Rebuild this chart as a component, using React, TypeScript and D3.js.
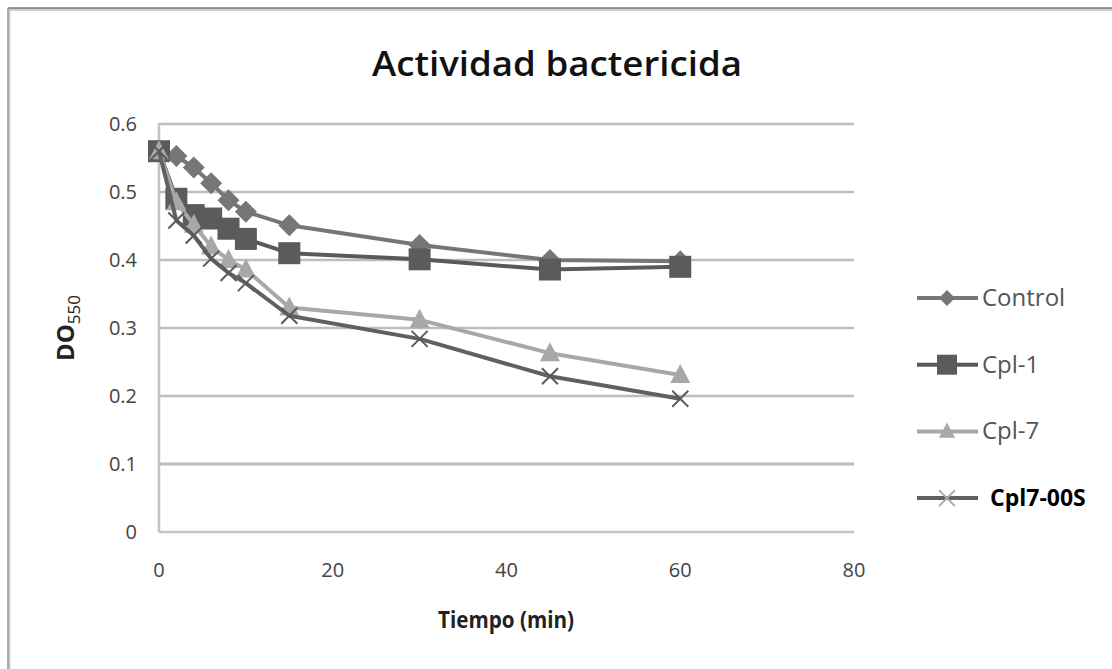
import React from "react";
import * as d3 from "d3";

// tiempo en minutos
const tiempos = [0, 2, 4, 6, 8, 10, 15, 30, 45, 60];

const control = [0.56, 0.553, 0.536, 0.513, 0.488, 0.471, 0.451, 0.422, 0.4, 0.398];
const cpl1 = [0.56, 0.49, 0.466, 0.461, 0.446, 0.431, 0.41, 0.401, 0.386, 0.39];
const cpl7 = [0.56, 0.485, 0.452, 0.42, 0.4, 0.386, 0.33, 0.312, 0.263, 0.231];
const cpl700s = [0.56, 0.458, 0.436, 0.402, 0.381, 0.366, 0.318, 0.284, 0.229, 0.196];

const serieNombres = ["Control", "Cpl-1", "Cpl-7", "Cpl7-00S"];
const yTicks = [0, 0.1, 0.2, 0.3, 0.4, 0.5, 0.6];
const xTicks = [0, 20, 40, 60, 80];

const W = 1112;
const H = 669;

function Marker({ kind, x, y, s, fill, stroke }: any) {
  if (kind === "diamond") {
    return <path d={`M${x},${y - s}L${x + s},${y}L${x},${y + s}L${x - s},${y}Z`} fill={fill} />;
  }
  if (kind === "square") {
    return <rect x={x - s} y={y - s} width={2 * s} height={2 * s} fill={fill} />;
  }
  if (kind === "triangle") {
    return <path d={`M${x},${y - s * 1.1}L${x + s},${y + s * 0.8}L${x - s},${y + s * 0.8}Z`} fill={fill} />;
  }
  return (
    <path
      d={`M${x - s},${y - s}L${x + s},${y + s}M${x - s},${y + s}L${x + s},${y - s}`}
      stroke={stroke}
      strokeWidth={2}
      fill="none"
    />
  );
}

export default function App() {
  const x = d3.scaleLinear().domain([0, 80]).range([159, 854]);
  const y = d3.scaleLinear().domain([0, 0.6]).range([532, 124]);

  const series = [
    { name: serieNombres[0], values: control, color: "#767676", mcolor: "#767676", kind: "diamond", ms: 11 },
    { name: serieNombres[1], values: cpl1, color: "#595959", mcolor: "#5b5b5b", kind: "square", ms: 11 },
    { name: serieNombres[2], values: cpl7, color: "#a8a8a8", mcolor: "#a8a8a8", kind: "triangle", ms: 10 },
    { name: serieNombres[3], values: cpl700s, color: "#606060", mcolor: "#5a5a5a", kind: "x", ms: 8 },
  ];

  const line = d3
    .line<number>()
    .x((_, i) => x(tiempos[i]))
    .y((v) => y(v));

  const font = "'Open Sans', sans-serif";

  return (
    <svg width={W} height={H} style={{ position: "absolute", left: 0, top: 0 }}>
      <rect x={0} y={0} width={W} height={H} fill="#fff" />
      {/* borde del gráfico */}
      <rect x={9} y={9.5} width={1110} height={700} fill="none" stroke="#d0d0d0" strokeWidth={3} />
      <line x1={8} x2={W} y1={8} y2={8} stroke="#777" strokeWidth={1.5} />
      <line x1={8} x2={8} y1={8} y2={H} stroke="#999" strokeWidth={1.5} />

      <text x={557} y={76} textAnchor="middle" fontFamily={font} fontSize={34} fontWeight={600} fill="#111" textLength={370} lengthAdjust="spacingAndGlyphs">
        Actividad bactericida
      </text>

      {/* cuadrícula */}
      {yTicks.map((t) => (
        <line key={t} x1={x(0)} x2={x(80)} y1={y(t)} y2={y(t)} stroke={t === 0 ? "#c4c4c4" : "#bdbdbd"} strokeWidth={t === 0.1 ? 3 : 2.5} />
      ))}
      <line x1={x(0)} x2={x(0)} y1={y(0.6) - 1} y2={y(0)} stroke="#c4c4c4" strokeWidth={2.5} />

      {yTicks.map((t) => (
        <text key={t} x={137} y={y(t) + 7} textAnchor="end" fontFamily={font} fontSize={20} fill="#444">
          {t === 0 ? "0" : d3.format(".1f")(t)}
        </text>
      ))}
      {xTicks.map((t) => (
        <text key={t} x={x(t)} y={y(0) + 45} textAnchor="middle" fontFamily={font} fontSize={20} fill="#444">
          {t}
        </text>
      ))}

      <text x={506} y={628} textAnchor="middle" fontFamily={font} fontSize={23} fontWeight={700} fill="#222" textLength={136} lengthAdjust="spacingAndGlyphs">
        Tiempo (min)
      </text>
      <text transform={`translate(74,${y(0.3)}) rotate(-90)`} textAnchor="middle" fontFamily={font} fontSize={24} fontWeight={700} fill="#222">
        DO<tspan fontSize={17} fontWeight={400} dy={6}>550</tspan>
      </text>

      {/* series */}
      {series.map((s) => (
        <g key={s.name}>
          <path d={line(s.values) || ""} fill="none" stroke={s.color} strokeWidth={4} strokeLinejoin="round" />
          {s.values.map((v, i) => (
            <Marker key={i} kind={s.kind} x={x(tiempos[i])} y={y(v)} s={s.ms} fill={s.mcolor} stroke={s.mcolor} />
          ))}
        </g>
      ))}

      {/* leyenda */}
      {series.map((s, i) => {
        const ly = 298 + i * 66.7;
        return (
          <g key={s.name}>
            <line x1={917} x2={978} y1={ly} y2={ly} stroke={s.color} strokeWidth={4} />
            <Marker kind={s.kind} x={947} y={ly} s={s.kind === "square" ? 10 : 8} fill={s.mcolor} stroke={i === 3 ? "#aaa" : s.mcolor} />
            <text
              x={i === 3 ? 990 : 982}
              y={ly + 8}
              fontFamily={font}
              fontSize={i === 3 ? 23 : 24}
              fontWeight={i === 3 ? 700 : 400}
              fill={i === 3 ? "#000" : "#555"}
            >
              {s.name}
            </text>
          </g>
        );
      })}
    </svg>
  );
}
